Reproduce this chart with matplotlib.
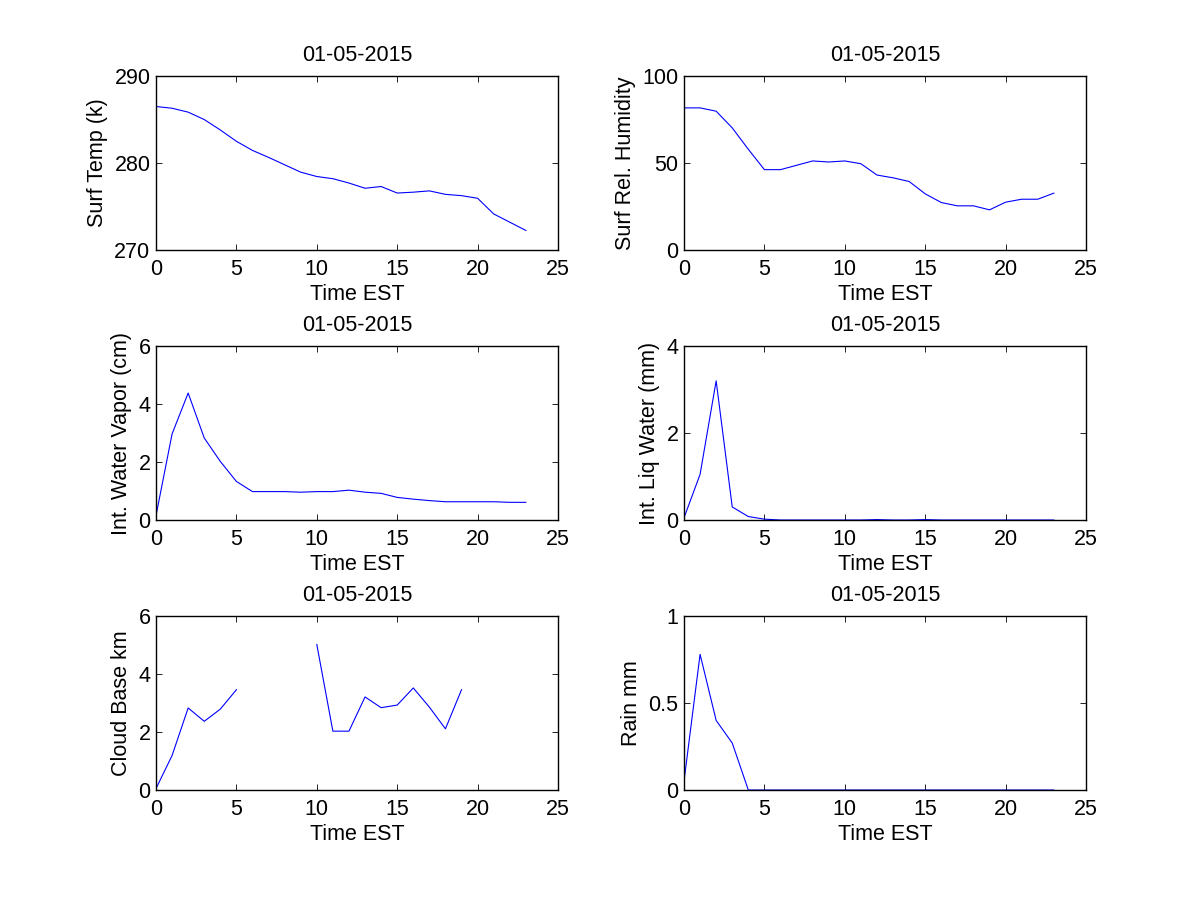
import numpy as np
import matplotlib
matplotlib.use("Agg")
import matplotlib.pyplot as plt

plt.rcParams['font.family'] = ['Liberation Sans', 'DejaVu Sans']
plt.rcParams['font.size'] = 15.5

hours = np.arange(24)
date_title = "01-05-2015"

surf_temp = [286.5, 286.3, 285.85, 285.0, 283.8, 282.5, 281.45, 280.65, 279.8, 278.95,
             278.45, 278.2, 277.7, 277.1, 277.3, 276.55, 276.65, 276.8, 276.4, 276.25,
             275.95, 274.15, 273.2, 272.25]
surf_rh = [81.7, 81.7, 79.8, 70.2, 57.9, 46.2, 46.2, 48.7, 51.2, 50.6,
           51.2, 49.6, 43.1, 41.5, 39.4, 32.3, 27.3, 25.4, 25.4, 23.1,
           27.5, 29.2, 29.2, 32.7]
water_vapor = [0.15, 2.97, 4.38, 2.83, 2.02, 1.33, 0.98, 0.98, 0.98, 0.96,
               0.98, 0.98, 1.03, 0.96, 0.92, 0.78, 0.72, 0.67, 0.63, 0.63,
               0.63, 0.63, 0.61, 0.61]
liq_water = [0.05, 1.05, 3.2, 0.3, 0.08, 0.02, 0.0, 0.0, 0.0, 0.0,
             0.0, 0.0, 0.01, 0.0, 0.0, 0.01, 0.0, 0.0, 0.0, 0.0,
             0.0, 0.0, 0.0, 0.0]
cloud_base = [0.05, 1.19, 2.83, 2.37, 2.79, 3.46, np.nan, np.nan, np.nan, np.nan,
              5.02, 2.03, 2.03, 3.21, 2.84, 2.93, 3.52, 2.86, 2.11, 3.46,
              np.nan, np.nan, np.nan, np.nan]
rain = [0.05, 0.78, 0.40, 0.27, 0.0, 0.0, 0.0, 0.0, 0.0, 0.0,
        0.0, 0.0, 0.0, 0.0, 0.0, 0.0, 0.0, 0.0, 0.0, 0.0,
        0.0, 0.0, 0.0, 0.0]

panels = [
    (surf_temp, "Surf Temp (k)", (270, 290), [270, 280, 290]),
    (surf_rh, "Surf Rel. Humidity", (0, 100), [0, 50, 100]),
    (water_vapor, "Int. Water Vapor (cm)", (0, 6), [0, 2, 4, 6]),
    (liq_water, "Int. Liq Water (mm)", (0, 4), [0, 2, 4]),
    (cloud_base, "Cloud Base km", (0, 6), [0, 2, 4, 6]),
    (rain, "Rain mm", (0, 1), [0, 0.5, 1]),
]

fig = plt.figure(figsize=(12, 9), dpi=100)
lefts = [0.13, 0.57]
bottoms = [0.7222, 0.4222, 0.1222]

for i, (vals, ylab, ylim, yticks) in enumerate(panels):
    row, col = divmod(i, 2)
    ax = fig.add_axes([lefts[col], bottoms[row], 0.335, 0.1933])
    ax.plot(hours, vals, color='blue', linewidth=0.8)
    ax.set_xlim(0, 25)
    ax.set_ylim(*ylim)
    ax.set_xticks([0, 5, 10, 15, 20, 25])
    ax.set_yticks(yticks)
    ax.set_yticklabels([f"{t:g}" for t in yticks])
    ax.tick_params(direction='in', top=True, right=True, length=4, width=0.6)
    ax.tick_params(axis='x', pad=6.5)
    ax.tick_params(axis='y', pad=4)
    for sp in ax.spines.values():
        sp.set_linewidth(1.0)
    ax.set_xlabel("Time EST", labelpad=2.5)
    ax.set_ylabel(ylab, labelpad=4.5)
    ax.set_title(date_title, fontsize=15.5, pad=10.5)

fig.savefig("out.png", dpi=100)
